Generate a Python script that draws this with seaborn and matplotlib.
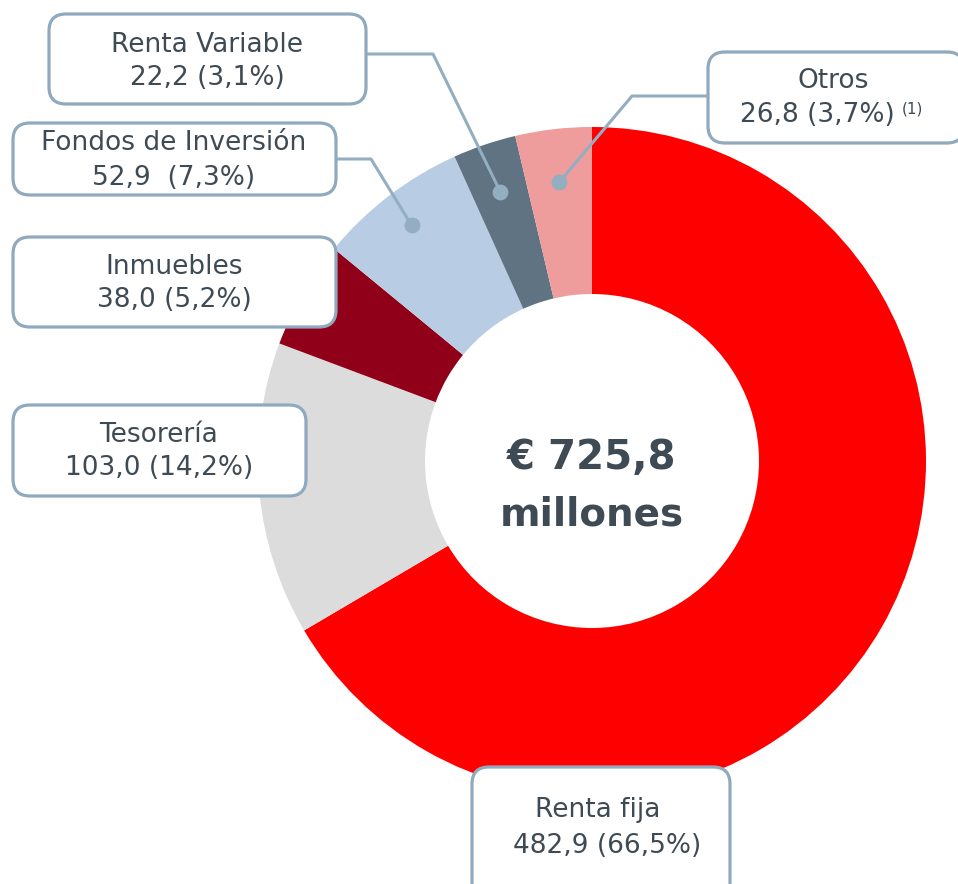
import matplotlib
matplotlib.use("Agg")
import matplotlib.pyplot as plt
from matplotlib.patches import FancyBboxPatch
import numpy as np
import seaborn as sns

sns.set_theme(style="white")
plt.rcParams["font.family"] = ["DejaVu Sans"]

# Portfolio breakdown (millions of euros), drawn clockwise from 12 o'clock
categories = ["Renta fija", "Tesorería", "Inmuebles", "Fondos de Inversión",
              "Renta Variable", "Otros"]
values = [482.9, 103.0, 38.0, 52.9, 22.2, 26.8]
value_labels = ["482,9 (66,5%)", "103,0 (14,2%)", "38,0 (5,2%)",
                "52,9  (7,3%)", "22,2 (3,1%)", "26,8 (3,7%)"]
total_label = ["€ 725,8", "millones"]
colors = ["#FF0000", "#DCDCDC", "#900018", "#B8CCE4", "#5F7382", "#EE9C9C"]

TEXT = "#3E4A54"
EDGE = "#8FA9BE"
LEAD = "#93AEC1"
H = 884
FS = 19

fig = plt.figure(figsize=(9.58, 8.84), dpi=100)
ax = fig.add_axes([0, 0, 1, 1])

cx, cy, R, ring = 592, H - 461, 334, 167
wedges, _ = ax.pie(values, colors=colors, startangle=90, counterclock=False,
                   center=(cx, cy), radius=R,
                   wedgeprops=dict(width=ring, edgecolor="none"))
ax.set_xlim(0, 958)
ax.set_ylim(0, H)
ax.set_aspect("equal")
ax.axis("off")


def box(x0, y0, x1, y1):
    p = FancyBboxPatch((x0, H - y1), x1 - x0, y1 - y0,
                       boxstyle="round,pad=0,rounding_size=17",
                       fc="white", ec=EDGE, lw=2.3, zorder=5, clip_on=False)
    ax.add_patch(p)


def two_lines(xc, y1, y2, a, b, fs=FS):
    ax.text(xc, H - y1, a, ha="center", va="center", fontsize=fs, color=TEXT, zorder=6)
    ax.text(xc, H - y2, b, ha="center", va="center", fontsize=fs, color=TEXT, zorder=6)


def leader(idx, r, elbow, end):
    w = wedges[idx]
    ang = np.deg2rad((w.theta1 + w.theta2) / 2)
    px, py = cx + r * np.cos(ang), cy + r * np.sin(ang)
    ax.plot([px, elbow[0], end[0]], [py, H - elbow[1], H - end[1]],
            color=LEAD, lw=2.2, zorder=4, solid_capstyle="round")
    ax.scatter([px], [py], s=130, color=LEAD, zorder=4, linewidths=0)


# Leader lines for the thin slices
leader(4, 284, (433, 54), (366, 54))
leader(3, 297, (371, 159), (336, 159))
leader(5, 281, (632, 96), (708, 96))

# Label boxes
box(49, 14, 366, 104)
two_lines(207, 45, 78, categories[4], value_labels[4])

box(13, 123, 336, 195)
two_lines(174, 143, 178, categories[3], value_labels[3])

box(13, 237, 336, 327)
two_lines(174, 267, 300, categories[2], value_labels[2])

box(13, 405, 306, 496)
two_lines(159, 435, 468, categories[1], value_labels[1])

box(708, 52, 964, 143)
ax.text(833, H - 81, categories[5], ha="center", va="center", fontsize=FS, color=TEXT, zorder=6)
ax.text(817, H - 115, value_labels[5], ha="center", va="center", fontsize=FS, color=TEXT, zorder=6)
ax.text(912, H - 109, "(1)", ha="center", va="center", fontsize=11, color=TEXT, zorder=6)

box(472, 767, 730, 905)
ax.text(598, H - 810, categories[0], ha="center", va="center", fontsize=FS, color=TEXT, zorder=6)
ax.text(607, H - 846, value_labels[0], ha="center", va="center", fontsize=FS, color=TEXT, zorder=6)

# Total in the centre of the ring
ax.text(cx, H - 458, total_label[0], ha="center", va="center", fontsize=29,
        fontweight="bold", color=TEXT, zorder=6)
ax.text(cx, H - 514, total_label[1], ha="center", va="center", fontsize=28,
        fontweight="bold", color=TEXT, zorder=6)

fig.savefig("out.png", dpi=100, facecolor="white")
